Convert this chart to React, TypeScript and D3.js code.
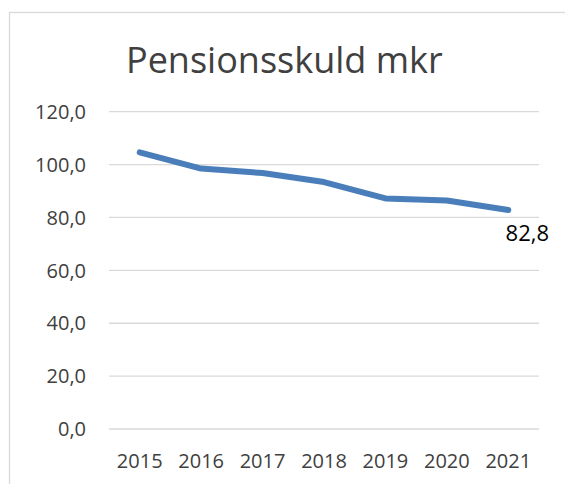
import React from "react";
import * as d3 from "d3";

const years = ["2015", "2016", "2017", "2018", "2019", "2020", "2021"];
const values = [104.6, 98.5, 96.8, 93.4, 87.2, 86.4, 82.8];
const yTicks = [0, 20, 40, 60, 80, 100, 120];
const title = "Pensionsskuld mkr";
const lastLabel = "82,8";

const W = 565;
const H = 484;
const plot = { left: 109, right: 539, top: 111.7, bottom: 429 };
const FONT = "'Open Sans', 'DejaVu Sans', sans-serif";

export default function App() {
  const x = d3.scaleBand<string>().domain(years).range([plot.left, plot.right]);
  const y = d3.scaleLinear().domain([0, 120]).range([plot.bottom, plot.top]);
  const line = d3
    .line<number>()
    .x((_, i) => (x(years[i]) as number) + x.bandwidth() / 2)
    .y((d) => y(d));
  const fmt = (v: number) => v.toFixed(1).replace(".", ",");
  const lastX = (x(years[years.length - 1]) as number) + x.bandwidth() / 2;

  return (
    <svg
      width={W}
      height={H}
      style={{ position: "absolute", left: 0, top: 0, background: "#fff" }}
      fontFamily={FONT}
    >
      <rect x={0} y={0} width={W} height={H} fill="#fff" />
      <rect x={9.5} y={12.5} width={700} height={700} fill="none" stroke="#d9d9d9" strokeWidth={1.3} />
      <text x={126} y={73} fontSize={36} fill="#404040">
        {title}
      </text>
      {yTicks.map((t) => (
        <g key={t}>
          <line x1={plot.left} x2={plot.right} y1={y(t)} y2={y(t)} stroke="#d9d9d9" strokeWidth={1.3} />
          <text x={86} y={y(t)} dy="0.36em" textAnchor="end" fontSize={20} fill="#404040">
            {fmt(t)}
          </text>
        </g>
      ))}
      {years.map((yr) => (
        <text
          key={yr}
          x={(x(yr) as number) + x.bandwidth() / 2}
          y={468}
          textAnchor="middle"
          fontSize={20}
          fill="#404040"
        >
          {yr}
        </text>
      ))}
      <path
        d={line(values) || ""}
        fill="none"
        stroke="#4a7ebb"
        strokeWidth={6}
        strokeLinecap="round"
        strokeLinejoin="round"
      />
      <text x={lastX + 19} y={241} textAnchor="middle" fontSize={22} fill="#000">
        {lastLabel}
      </text>
    </svg>
  );
}
